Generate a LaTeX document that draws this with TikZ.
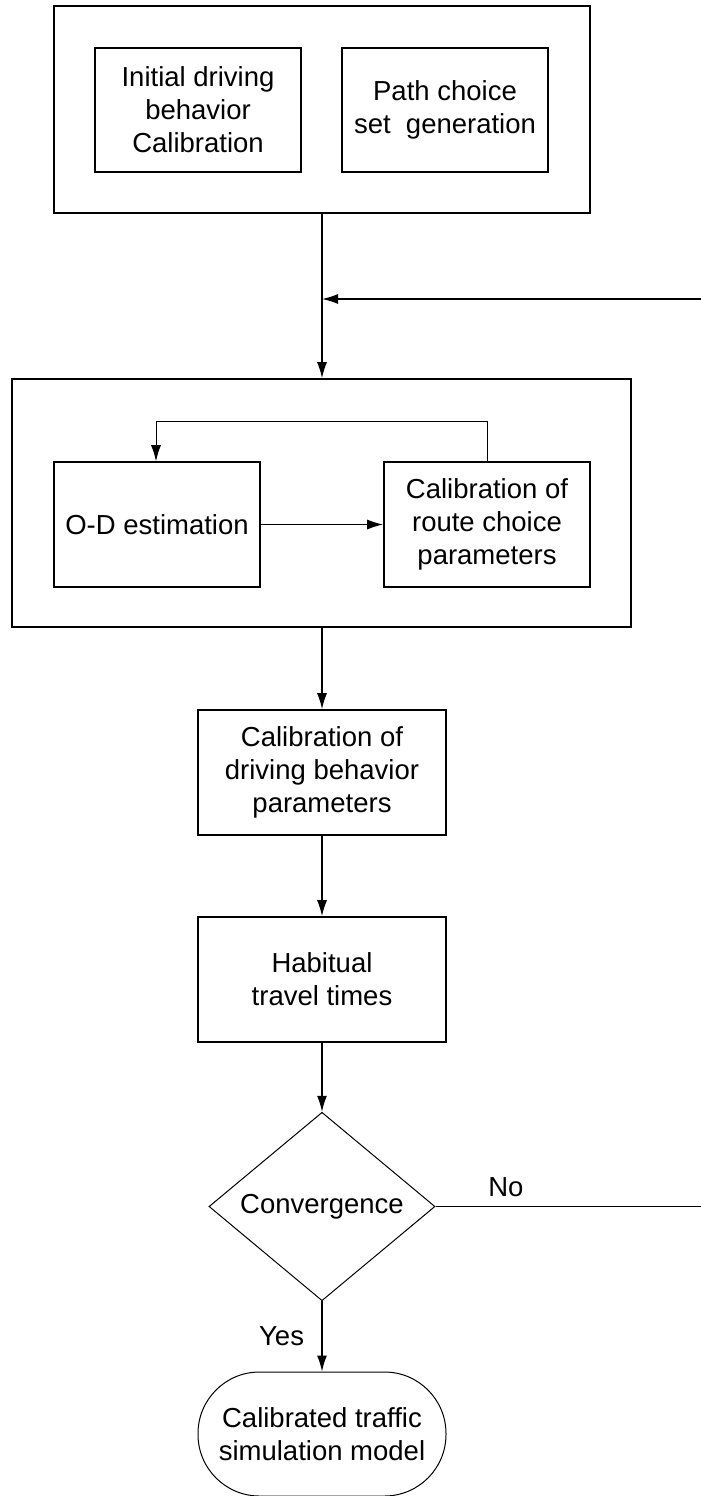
\documentclass[tikz,border=0pt]{standalone}
\usepackage{fontspec}
\setmainfont{Liberation Sans}
\usepackage{tikz}
\usetikzlibrary{shapes.geometric, arrows.meta, positioning}

\begin{document}
\begin{tikzpicture}[x=1pt, y=-1pt,
    every node/.style={font=\fontsize{27.5}{33}\selectfont},
    frame/.style={rectangle, draw=black, line width=1.6pt, inner sep=0pt},
    stepbox/.style={rectangle, draw=black, line width=1.6pt, align=center, inner sep=0pt, minimum width=206pt, minimum height=124pt},
    widebox/.style={stepbox, minimum width=248pt, minimum height=125pt},
    decision/.style={diamond, draw=black, line width=1pt, inner sep=0pt, minimum width=226pt, minimum height=165pt},
    terminal/.style={rectangle, draw=black, line width=1pt, align=center, rounded corners=61.5pt, minimum width=248pt, minimum height=124pt},
    arrow/.style={draw=black, line width=1.3pt, -{Latex[length=16pt, width=10pt]}},
    thinarrow/.style={arrow, line width=1pt},
    link/.style={draw=black, line width=1.3pt}]

    \useasboundingbox (0,0) rectangle (701,1496);

    % Initialisation
    \node [frame, minimum width=536pt, minimum height=207pt] at (322, 109.5) (init) {};
    \node [stepbox] at (198, 110) (drvinit) {Initial driving\\behavior\\Calibration};
    \node [stepbox] at (445, 110) (pathset) {Path choice\\set\ \ generation};

    % Demand loop
    \node [frame, minimum width=619pt, minimum height=248pt] at (321.5, 503) (demand) {};
    \node [stepbox, minimum height=125pt] at (157, 524.5) (odest) {O-D estimation};
    \node [stepbox, minimum height=125pt] at (487, 524.5) (route) {Calibration of\\route choice\\parameters};
    \coordinate (loop) at (156, 421);

    % Supply and check
    \node [widebox] at (322, 772.5) (drive) {Calibration of\\driving behavior\\parameters};
    \node [widebox] at (322, 979.5) (habit) {Habitual\\travel times};
    \node [decision] at (322, 1206.5) (conv) {Convergence};
    \node [terminal] at (322, 1434) (model) {Calibrated traffic\\simulation model};

    \coordinate (backin) at (701, 299);
    \coordinate (backout) at (701, 1206.5);

    % Arrows
    \draw [arrow] (init.south -| 322,0) -- (demand.north -| 322,0);
    \draw [arrow] (backin) -- (backin -| 322,0);
    \draw [arrow] (odest) -- (route);
    \draw [thinarrow] (route.north) |- (loop) -- (loop |- odest.north);
    \draw [arrow] (demand.south -| drive.north) -- (drive.north);
    \draw [arrow] (drive) -- (habit);
    \draw [arrow] (habit) -- (conv);
    \draw [arrow] (conv) -- node[left=14pt]{Yes} (model);
    \draw [link] (conv.east) -- node[pos=0.265, above=6pt]{No} (backout);

\end{tikzpicture}
\end{document}
